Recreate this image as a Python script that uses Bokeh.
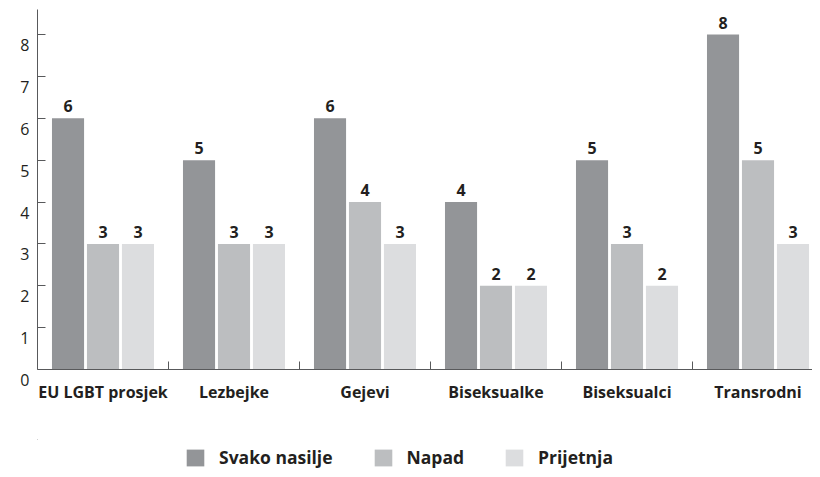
from bokeh.plotting import figure
from bokeh.layouts import column
from bokeh.models import ColumnDataSource, FixedTicker, Range1d, Legend, LegendItem
from bokeh.embed import file_html
from bokeh.resources import INLINE
from bokeh.core.properties import value

categories = ["EU LGBT prosjek", "Lezbejke", "Gejevi", "Biseksualke", "Biseksualci", "Transrodni"]
svako_nasilje = [6, 5, 6, 4, 5, 8]
napad = [3, 3, 4, 2, 3, 5]
prijetnja = [3, 3, 3, 2, 2, 3]
series_names = ["Svako nasilje", "Napad", "Prijetnja"]
series_values = [svako_nasilje, napad, prijetnja]
colors = ["#939598", "#bcbec0", "#dcdddf"]
y_ticks = [0, 1, 2, 3, 4, 5, 6, 7, 8]

FONT = "Open Sans"
TEXT = "#231f20"
AXIS = "#58595b"
n = len(categories)

p = figure(width=812, height=439, x_range=Range1d(0, 5.916), y_range=Range1d(0, 8.6),
           output_backend="svg", toolbar_location=None,
           min_border_left=37, min_border_right=0, min_border_top=9, min_border_bottom=70)
p.outline_line_color = None
p.grid.grid_line_color = None

# legend strip figure (shares the data sources; its ranges show none of the bars)
lg = figure(width=812, height=30, x_range=Range1d(20, 21), y_range=Range1d(-2, -1),
            output_backend="svg", toolbar_location=None,
            x_axis_location=None, y_axis_location=None,
            min_border_left=0, min_border_right=0, min_border_top=0, min_border_bottom=0)
lg.grid.grid_line_color = None
lg.outline_line_color = None

offsets = [-0.267, 0.0, 0.267]
items = []
for name, vals, col, off in zip(series_names, series_values, colors, offsets):
    src = ColumnDataSource(dict(x=[i + 0.5 + off for i in range(n)], top=vals,
                                lbl=[str(v) for v in vals]))
    p.vbar(x="x", top="top", width=0.245, bottom=0, source=src,
           fill_color=col, line_color=None)
    p.text(x="x", y="top", text="lbl", source=src, text_align="center",
           text_baseline="bottom", y_offset=-6, text_font=value(FONT),
           text_font_style="bold", text_font_size="16px", text_color=TEXT)
    r = lg.vbar(x="x", top="top", width=0.245, bottom=0, source=src,
                fill_color=col, line_color=None)
    items.append(LegendItem(label=name, renderers=[r]))

# x axis
xa = p.xaxis[0]
xa.ticker = FixedTicker(ticks=[i + 0.5 for i in range(n)], minor_ticks=list(range(1, n)))
xa.major_label_overrides = {i + 0.5: c for i, c in enumerate(categories)}
xa.major_tick_line_color = None
xa.major_tick_in = 0
xa.major_tick_out = 0
xa.minor_tick_in = 8
xa.minor_tick_out = 0
xa.minor_tick_line_color = AXIS
xa.axis_line_color = AXIS
xa.major_label_standoff = 11
xa.major_label_text_font = FONT
xa.major_label_text_font_style = "bold"
xa.major_label_text_font_size = "16px"
xa.major_label_text_color = TEXT

# y axis (labels sit a little below their ticks, as in the original)
ya = p.yaxis[0]
ya.ticker = FixedTicker(ticks=y_ticks, minor_ticks=[])
ya.major_label_overrides = {t: "\n" + str(t) for t in y_ticks}
ya.major_label_text_line_height = 0.95
ya.major_tick_in = 8
ya.major_tick_out = 0
ya.major_tick_line_color = AXIS
ya.axis_line_color = AXIS
ya.major_label_standoff = 8
ya.major_label_text_font = FONT
ya.major_label_text_font_size = "16px"
ya.major_label_text_color = TEXT

legend = Legend(items=items, orientation="horizontal", location=(147, 0),
                glyph_width=22, glyph_height=21, label_standoff=13, spacing=39,
                padding=0, margin=0, border_line_color=None, background_fill_alpha=0,
                label_text_font=FONT, label_text_font_size="17.5px", label_text_color=TEXT,
                label_text_font_style="bold", label_height=21)
lg.add_layout(legend, "center")

open("out.html", "w").write(file_html(column(p, lg, spacing=0), INLINE))
